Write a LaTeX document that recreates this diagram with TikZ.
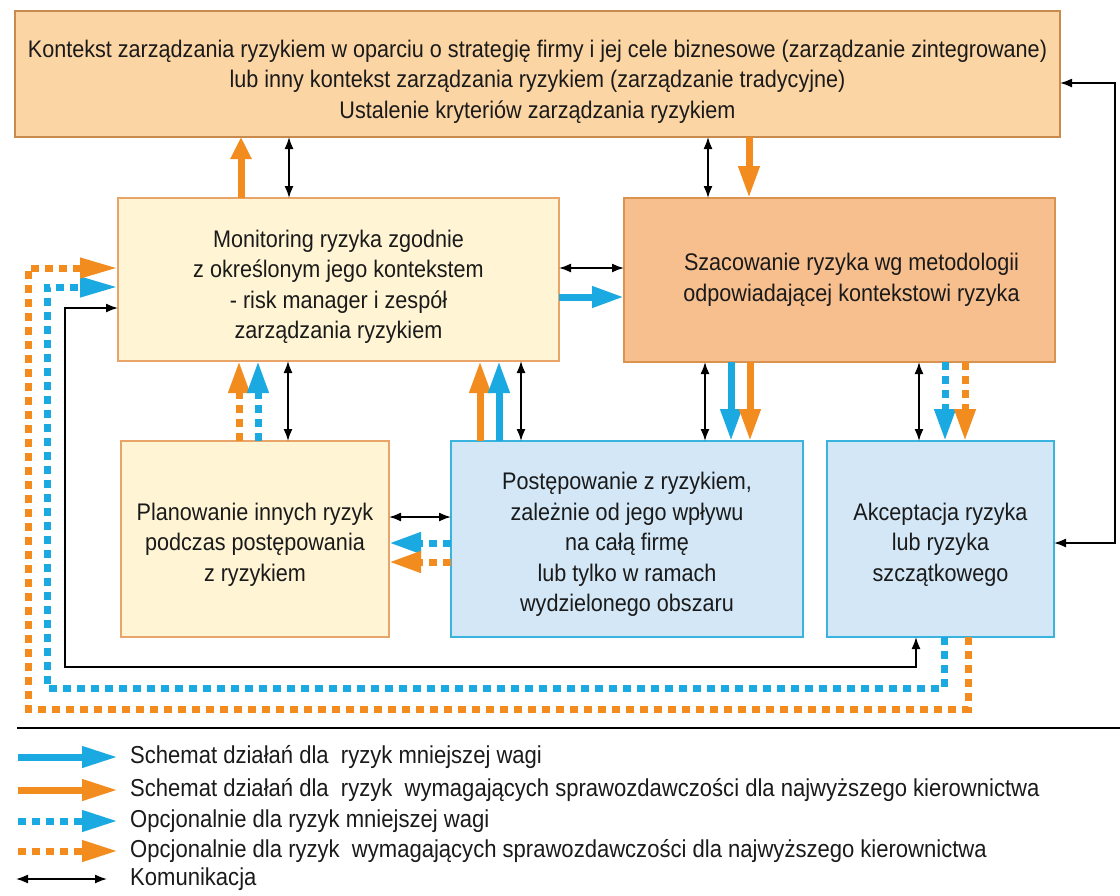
\documentclass[tikz,border=0pt]{standalone}
\usepackage{fontspec}
\setmainfont[FakeStretch=0.9]{Liberation Sans}
\usetikzlibrary{arrows.meta}
\definecolor{topfill}{HTML}{FCD5A5}
\definecolor{topline}{HTML}{C98A4E}
\definecolor{creamfill}{HTML}{FFF4D4}
\definecolor{creamline}{HTML}{E9A46A}
\definecolor{szafill}{HTML}{F7BF8E}
\definecolor{szaline}{HTML}{D99250}
\definecolor{bluefill}{HTML}{D3E7F6}
\definecolor{blueline}{HTML}{39B4DE}
\definecolor{ocol}{HTML}{F28C1E}
\definecolor{bcol}{HTML}{1BA9E1}
\definecolor{txt}{HTML}{1A1A1A}
\newcommand\dn[1]{\rule{0pt}{#1}}
\begin{document}
\begin{tikzpicture}[x=1pt,y=-1pt,
  box/.style={draw, line width=1.5pt, inner sep=0pt, outer sep=0pt, align=center,
    font=\fontsize{24}{30.5}\selectfont, text=txt},
  topbox/.style={box, fill=topfill, draw=topline},
  creambox/.style={box, fill=creamfill, draw=creamline},
  szabox/.style={box, fill=szafill, draw=szaline},
  bluebox/.style={box, fill=bluefill, draw=blueline},
  oarr/.style={draw=ocol, line width=7pt, -{Triangle[length=32pt,width=20pt]}},
  barr/.style={draw=bcol, line width=7pt, -{Triangle[length=32pt,width=20pt]}},
  odash/.style={oarr, dash pattern=on 8pt off 6pt},
  bdash/.style={barr, dash pattern=on 8pt off 6pt},
  comm/.style={draw=black, line width=1.6pt, {Latex[length=12pt,width=9pt]}-{Latex[length=12pt,width=9pt]}},
  legtext/.style={anchor=west, inner sep=0pt, font=\fontsize{24.5}{26}\selectfont, text=txt}]
\useasboundingbox (0,0) rectangle (1120,895);
\fill[white] (0,0) rectangle (1120,895);

% boxes
\node[topbox, minimum width=1045pt, minimum height=126pt] (top) at (537.5,74)
  {\dn{32pt}Kontekst zarządzania ryzykiem w oparciu o strategię firmy i jej cele biznesowe (zarządzanie zintegrowane)\\
   lub inny kontekst zarządzania ryzykiem (zarządzanie tradycyjne)\\
   Ustalenie kryteriów zarządzania ryzykiem};
\node[creambox, minimum width=441pt, minimum height=163pt] (mon) at (338.5,279.5)
  {\dn{32pt}Monitoring ryzyka zgodnie\\ z określonym jego kontekstem\\ - risk manager i zespół\\ zarządzania ryzykiem};
\node[szabox, minimum width=431pt, minimum height=164pt] (sza) at (839.5,280)
  {\hspace*{24pt}Szacowanie ryzyka wg metodologii\\ \hspace*{24pt}odpowiadającej kontekstowi ryzyka};
\node[creambox, minimum width=268pt, minimum height=196pt] (pla) at (255,539)
  {\dn{28pt}Planowanie innych ryzyk\\ podczas postępowania\\ z ryzykiem};
\node[bluebox, minimum width=352pt, minimum height=196pt] (pos) at (627,539)
  {\dn{28pt}Postępowanie z ryzykiem,\\ zależnie od jego wpływu\\ na całą firmę\\ lub tylko w ramach\\ wydzielonego obszaru};
\node[bluebox, minimum width=227pt, minimum height=196pt] (akc) at (940.5,539)
  {\dn{28pt}Akceptacja ryzyka\\ lub ryzyka\\ szczątkowego};

% top <-> monitoring / szacowanie
\draw[oarr, -{Triangle[length=22pt,width=20pt]}] (241,0 |- mon.north) -- (241,0 |- top.south);
\draw[comm] (289,0 |- mon.north) -- (289,0 |- top.south);
\draw[comm] (708,0 |- sza.north) -- (708,0 |- top.south);
\draw[oarr] (749,0 |- top.south) -- (749,0 |- sza.north);

% monitoring <-> szacowanie
\draw[comm] (mon.east |- 0,268) -- (sza.west |- 0,268);
\draw[barr] (mon.east |- 0,297) -- (sza.west |- 0,297);

% szacowanie -> postepowanie / akceptacja
\draw[comm] (705,0 |- sza.south) -- (705,0 |- pos.north);
\draw[barr] (731,0 |- sza.south) -- (731,0 |- pos.north);
\draw[oarr] (750,0 |- sza.south) -- (750,0 |- pos.north);
\draw[comm] (919,0 |- sza.south) -- (919,0 |- akc.north);
\draw[bdash] (945,0 |- sza.south) -- (945,0 |- akc.north);
\draw[odash] (965,0 |- sza.south) -- (965,0 |- akc.north);

% planowanie / postepowanie -> monitoring
\draw[odash] (239,0 |- pla.north) -- (239,0 |- mon.south);
\draw[bdash] (258,0 |- pla.north) -- (258,0 |- mon.south);
\draw[comm] (288,0 |- pla.north) -- (288,0 |- mon.south);
\draw[oarr] (480,0 |- pos.north) -- (480,0 |- mon.south);
\draw[barr] (499,0 |- pos.north) -- (499,0 |- mon.south);
\draw[comm] (521,0 |- pos.north) -- (521,0 |- mon.south);

% postepowanie -> planowanie
\draw[comm] (pla.east |- 0,517) -- (pos.west |- 0,517);
\draw[bdash] (pos.west |- 0,543) -- (pla.east |- 0,543);
\draw[odash] (pos.west |- 0,562) -- (pla.east |- 0,562);

% feedback loops
\draw[comm] (mon.west |- 0,308) -- (65,308) -- (65,667) -- (916,667) -- (916,0 |- akc.south);
\draw[bdash, -{Triangle[length=38pt,width=19pt]}] (944,0 |- akc.south) -- (944,688) -- (47,688) -- (47,287) -- (mon.west |- 0,287);
\draw[odash, -{Triangle[length=38pt,width=19pt]}] (968,0 |- akc.south) -- (968,709) -- (28,709) -- (28,268) -- (mon.west |- 0,268);
\draw[comm] (akc.east |- 0,543) -- (1115,543) -- (1115,83) -- (top.east |- 0,83);

% separator
\coordinate (sepa) at (17,728);
\coordinate (sepb) at (1120,728);
\draw[line width=1.5pt] (sepa) -- (sepb);

% legend
\node[legtext] (l1) at (130,757) {Schemat działań dla \ ryzyk mniejszej wagi};
\node[legtext] (l2) at (130,790) {Schemat działań dla \ ryzyk \ wymagających sprawozdawczości dla najwyższego kierownictwa};
\node[legtext] (l3) at (130,821) {Opcjonalnie dla ryzyk mniejszej wagi};
\node[legtext] (l4) at (130,851) {Opcjonalnie dla ryzyk \ wymagających sprawozdawczości dla najwyższego kierownictwa};
\node[legtext] (l5) at (130,879) {Komunikacja};
\coordinate (a1) at (18,757); \coordinate (b1) at (118,757);
\coordinate (a2) at (18,790); \coordinate (b2) at (118,790);
\coordinate (a3) at (18,821); \coordinate (b3) at (118,821);
\coordinate (a4) at (18,851); \coordinate (b4) at (118,851);
\coordinate (a5) at (16,879); \coordinate (b5) at (107,879);
\draw[barr, -{Triangle[length=36pt,width=20pt]}] (a1) -- (b1);
\draw[oarr, -{Triangle[length=36pt,width=20pt]}] (a2) -- (b2);
\draw[bdash, -{Triangle[length=36pt,width=20pt]}] (a3) -- (b3);
\draw[odash, -{Triangle[length=36pt,width=20pt]}] (a4) -- (b4);
\draw[comm] (a5) -- (b5);
\end{tikzpicture}
\end{document}
